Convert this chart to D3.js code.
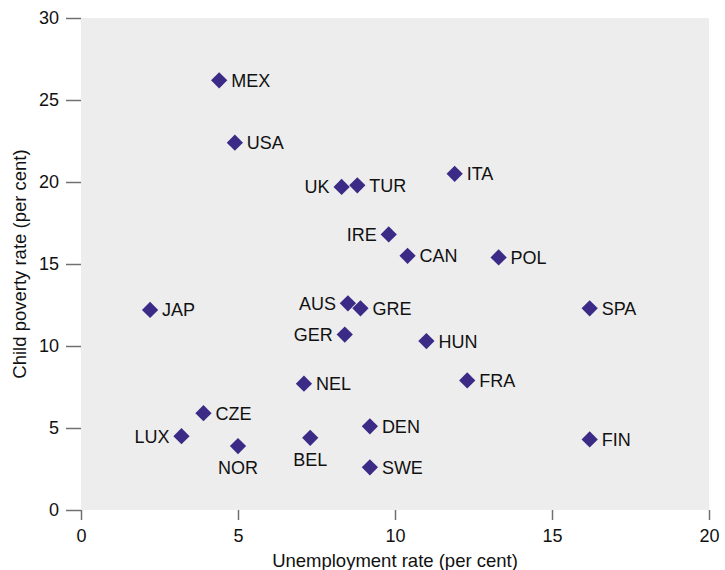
<!DOCTYPE html>
<html>
<head>
<meta charset="utf-8">
<script src="https://cdn.jsdelivr.net/npm/d3@7"></script>
<style>
  body { margin: 0; background: #fff; }
  text { font-family: "Liberation Sans", Arial, Helvetica, sans-serif; }
</style>
</head>
<body>
<svg id="chart" width="725" height="570"></svg>
<script>
const countries = ["MEX","USA","UK","TUR","ITA","IRE","CAN","POL","JAP","AUS","GRE","SPA","GER","HUN","NEL","FRA","CZE","LUX","NOR","BEL","DEN","SWE","FIN"];
const unemployment = [4.4,4.9,8.3,8.8,11.9,9.8,10.4,13.3,2.2,8.5,8.9,16.2,8.4,11.0,7.1,12.3,3.9,3.2,5.0,7.3,9.2,9.2,16.2];
const childPoverty = [26.2,22.4,19.7,19.8,20.5,16.8,15.5,15.4,12.2,12.6,12.3,12.3,10.7,10.3,7.7,7.9,5.9,4.5,3.9,4.4,5.1,2.6,4.3];
const xTicks = [0,5,10,15,20];
const yTicks = [0,5,10,15,20,25,30];
const leftLabelled = ["UK","IRE","AUS","GER","LUX"];
const belowLabelled = ["NOR","BEL"];

const data = countries.map((c,i)=>({c, x: unemployment[i], y: childPoverty[i]}));

const svg = d3.select("#chart");
const m = {left: 81, right: 16, top: 18, bottom: 60};
const W = 725, H = 570;
const x = d3.scaleLinear().domain([0,20]).range([m.left, W - m.right]);
const y = d3.scaleLinear().domain([0,30]).range([H - m.bottom, m.top]);

svg.append("rect")
  .attr("x", x(0)).attr("y", y(30))
  .attr("width", x(20) - x(0)).attr("height", y(0) - y(30))
  .attr("fill", "#ededed");

const tickColor = "#707070";
const fs = 18;

const yAxis = svg.append("g").attr("transform", `translate(${x(0)},0)`)
  .call(d3.axisLeft(y).tickValues(yTicks).tickSize(15).tickPadding(7).tickFormat(d3.format("d")));
yAxis.select(".domain").remove();
yAxis.selectAll(".tick line").attr("stroke", tickColor).attr("stroke-width", 1.5);
yAxis.selectAll(".tick text").attr("font-size", fs).attr("fill", "#111")
  .style("font-family", '"Liberation Sans", Arial, sans-serif');

const xAxis = svg.append("g").attr("transform", `translate(0,${y(0)})`)
  .call(d3.axisBottom(x).tickValues(xTicks).tickSize(10).tickPadding(9).tickFormat(d3.format("d")));
xAxis.select(".domain").remove();
xAxis.selectAll(".tick line").attr("stroke", tickColor).attr("stroke-width", 1.5);
xAxis.selectAll(".tick text").attr("font-size", fs).attr("fill", "#111")
  .style("font-family", '"Liberation Sans", Arial, sans-serif');

svg.append("text")
  .attr("x", 395).attr("y", 567)
  .attr("text-anchor", "middle").attr("font-size", 18.5).attr("fill", "#111")
  .text("Unemployment rate (per cent)");

svg.append("text")
  .attr("transform", `translate(26,${(y(0)+y(30))/2}) rotate(-90)`)
  .attr("text-anchor", "middle").attr("font-size", 18.5).attr("fill", "#111")
  .text("Child poverty rate (per cent)");

const sym = d3.symbol().type(d3.symbolSquare).size(132);
const g = svg.append("g");
g.selectAll("path.pt").data(data).join("path")
  .attr("class","pt")
  .attr("d", sym)
  .attr("transform", d => `translate(${x(d.x)},${y(d.y)}) rotate(45)`)
  .attr("fill", "#3b2a86");

g.selectAll("text.lbl").data(data).join("text")
  .attr("class","lbl")
  .attr("font-size", fs).attr("fill", "#111")
  .attr("x", d => belowLabelled.includes(d.c) ? x(d.x) : leftLabelled.includes(d.c) ? x(d.x) - 12 : x(d.x) + 12)
  .attr("y", d => belowLabelled.includes(d.c) ? y(d.y) + 28 : y(d.y) + 6.5)
  .attr("text-anchor", d => belowLabelled.includes(d.c) ? "middle" : leftLabelled.includes(d.c) ? "end" : "start")
  .text(d => d.c);
</script>
</body>
</html>
